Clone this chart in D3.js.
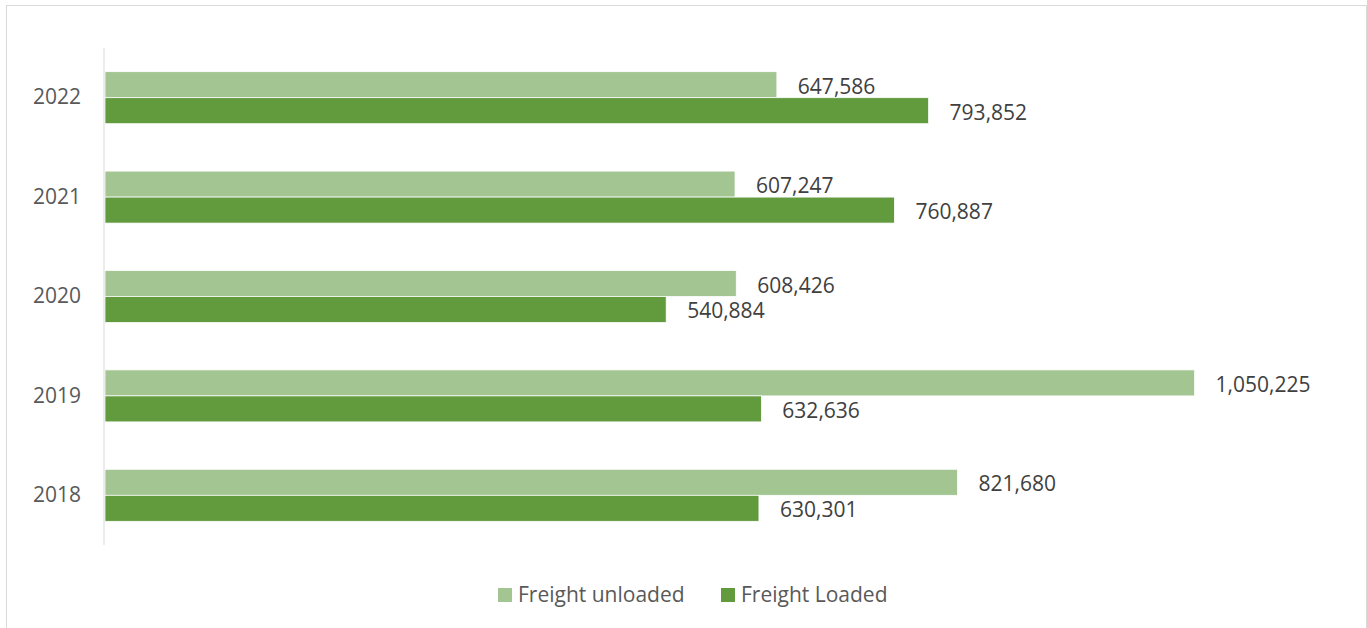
<!DOCTYPE html>
<html>
<head>
<meta charset="utf-8">
<script src="https://cdn.jsdelivr.net/npm/d3@7"></script>
<style>
  body { margin: 0; background: #fff; }
  svg { display: block; font-family: "Open Sans", sans-serif; }
</style>
</head>
<body>
<div id="chart"></div>
<script>
// data
const years = ["2022", "2021", "2020", "2019", "2018"];
const seriesNames = ["Freight unloaded", "Freight Loaded"];
const unloaded = [647586, 607247, 608426, 1050225, 821680];
const loaded = [793852, 760887, 540884, 632636, 630301];
const colors = ["#a2c592", "#629a3e"];

let w = 1367, h = 628;
let rows = years.map((y, i) => ({ year: y, vals: [unloaded[i], loaded[i]] }));

let svg = d3.select("#chart").append("svg").attr("width", w).attr("height", h);

// outer frame
svg.append("rect")
    .attr("x", 6.5).attr("y", 5.5).attr("width", 1360).attr("height", 640)
    .attr("fill", "none").attr("stroke", "#d9d9d9").attr("stroke-width", 1);

let pad = 0.477;
let xS = d3.scaleLinear().domain([0, 1200000]).range([105, 1350]);
let yS = d3.scaleBand().domain(years).range([48, 545]).paddingInner(pad).paddingOuter(pad / 2);
let subS = d3.scaleBand().domain([0, 1]).range([0, yS.bandwidth()]);

let fmt = d3.format(",");

let groups = svg.selectAll("g.cat").data(rows).enter().append("g")
    .attr("class", "cat")
    .attr("transform", d => `translate(0,${yS(d.year)})`);

groups.selectAll("rect").data(d => d.vals).enter().append("rect")
    .attr("x", xS(0))
    .attr("y", (v, i) => subS(i))
    .attr("width", v => xS(v) - xS(0))
    .attr("height", subS.bandwidth())
    .attr("fill", (v, i) => colors[i])
    .attr("stroke", "#fff").attr("stroke-width", 0.75);

groups.selectAll("text.val").data(d => d.vals).enter().append("text")
    .attr("class", "val")
    .attr("x", v => xS(v) + 21)
    .attr("y", (v, i) => subS(i) + subS.bandwidth() / 2 + 9)
    .attr("fill", "#404040")
    .style("font-size", "21px")
    .text(v => fmt(v));

// category axis
let yAxis = svg.append("g").attr("transform", `translate(104,0)`)
    .call(d3.axisLeft(yS).tickSize(0).tickPadding(23));
yAxis.select(".domain").attr("stroke", "#d9d9d9").attr("d", "M0,48V545");
yAxis.selectAll("text").attr("fill", "#595959").style("font-size", "21px")
    .attr("font-family", "Open Sans, sans-serif");

// legend
let legendX = [498, 721];
let legend = svg.selectAll("g.leg").data(seriesNames).enter().append("g")
    .attr("class", "leg")
    .attr("transform", (d, i) => `translate(${legendX[i]},588)`);
legend.append("rect").attr("width", 14).attr("height", 14).attr("fill", (d, i) => colors[i]);
legend.append("text").attr("x", 20).attr("y", 14).attr("fill", "#595959")
    .style("font-size", "21px").text(d => d);
</script>
</body>
</html>
